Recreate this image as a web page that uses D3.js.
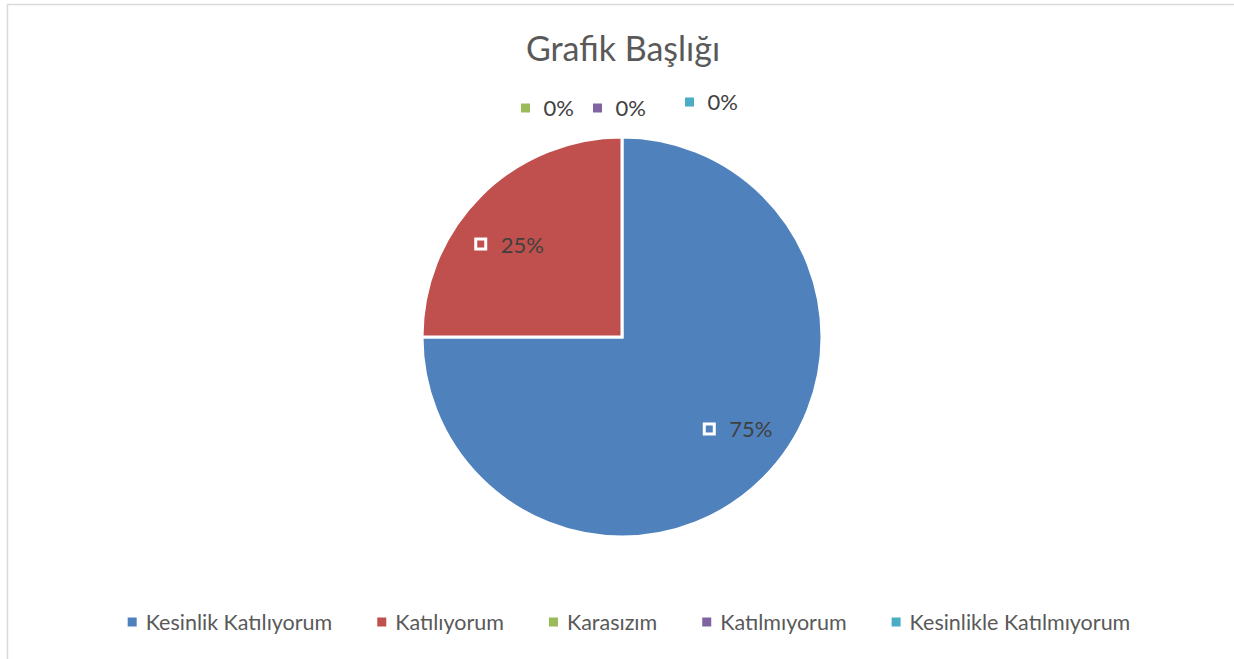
<!DOCTYPE html>
<html>
<head>
<meta charset="utf-8">
<script src="https://cdn.jsdelivr.net/npm/d3@7"></script>
<style>
    body { margin: 0; background: #ffffff; }
    svg { display: block; font-family: Lato, "Open Sans", sans-serif; }
</style>
</head>
<body>
<svg id="SVG_CONTAINER" width="1234" height="659"></svg>
<script>
// chart values
const categories = ["Kesinlik Katılıyorum", "Katılıyorum", "Karasızım", "Katılmıyorum", "Kesinlikle Katılmıyorum"];
const shares = [75, 25, 0, 0, 0];
const colours = ["#4f81bd", "#c0504d", "#9bbb59", "#8064a2", "#4bacc6"];
const title = "Grafik Başlığı";

const width = 1234, height = 659;
const CENTER = {"X": 622, "Y": 337};
const RADIUS = 200;

let svg = d3.select("#SVG_CONTAINER");

// frame of the chart area
svg.append("rect")
    .attr("x", 7.5)
    .attr("y", 4.5)
    .attr("width", width + 20)
    .attr("height", height + 20)
    .style("fill", "#ffffff")
    .style("stroke", "#d9d9d9")
    .style("stroke-width", 1.5);

// title
svg.append("text")
    .attr("x", CENTER.X + 1)
    .attr("y", 61)
    .attr("text-anchor", "middle")
    .style("font-size", "34px")
    .style("fill", "#595959")
    .text(title);

//** PIE *****************************************
let data = categories.map((c, i) => ({name: c, value: shares[i]}));

let pie = d3.pie()
    .sort(null)
    .value(d => d.value);

let arcs = pie(data);

let arc = d3.arc()
    .innerRadius(0)
    .outerRadius(RADIUS);

let labelArc = d3.arc()
    .innerRadius(RADIUS * 0.735)
    .outerRadius(RADIUS * 0.735);

let chart = svg.append("g")
    .attr("transform", "translate(" + CENTER.X + "," + CENTER.Y + ")");

chart.selectAll("path")
    .data(arcs.filter(d => d.value > 0))
    .enter()
    .append("path")
    .attr("d", arc)
    .style("fill", (d, i) => colours[i])
    .style("stroke", "#ffffff")
    .style("stroke-width", 3);

// labels inside the slices, with a white outlined marker
let shift = 0.105;
let inside = chart.selectAll(".inLabel")
    .data(arcs.filter(d => d.value > 0))
    .enter()
    .append("g")
    .attr("class", "inLabel")
    .attr("transform", d => {
        let c = labelArc.centroid({startAngle: d.startAngle - shift, endAngle: d.endAngle - shift});
        return "translate(" + c[0] + "," + c[1] + ")";
    });

inside.append("rect")
    .attr("x", -32)
    .attr("y", -5.5)
    .attr("width", 10)
    .attr("height", 10)
    .style("fill", "none")
    .style("stroke", "#ffffff")
    .style("stroke-width", 3);

inside.append("text")
    .attr("x", -7)
    .attr("y", 8)
    .style("font-size", "22px")
    .style("fill", "#404040")
    .text(d => d.value + "%");

// zero slices: labels placed above the pie
let zeroOffsets = [{dx: -96.5, dy: -229}, {dx: -24.5, dy: -229}, {dx: 67.5, dy: -235}];
let zeroSlices = arcs.filter(d => d.value === 0);

let outside = chart.selectAll(".outLabel")
    .data(zeroSlices)
    .enter()
    .append("g")
    .attr("class", "outLabel")
    .attr("transform", (d, i) => "translate(" + zeroOffsets[i].dx + "," + zeroOffsets[i].dy + ")");

outside.append("rect")
    .attr("x", -4.5)
    .attr("y", -4.5)
    .attr("width", 9)
    .attr("height", 9)
    .style("fill", (d, i) => colours[d.index]);

outside.append("text")
    .attr("x", 18)
    .attr("y", 8)
    .style("font-size", "22px")
    .style("fill", "#404040")
    .text(d => d.value + "%");

//** LEGEND *****************************************
let legend = svg.append("g").attr("class", "legend");
let items = legend.selectAll("g")
    .data(categories)
    .enter()
    .append("g");

items.append("rect")
    .attr("x", 0)
    .attr("y", -4.5)
    .attr("width", 9)
    .attr("height", 9)
    .style("fill", (d, i) => colours[i]);

items.append("text")
    .attr("x", 18)
    .attr("y", 8)
    .style("font-size", "21.5px")
    .style("fill", "#595959")
    .text(d => d);

let gap = 45;
let xLegend = 0;
items.each(function () {
    let w = this.getBBox().width;
    d3.select(this).attr("transform", "translate(" + xLegend + ",0)");
    xLegend += w + gap;
});
let legendWidth = xLegend - gap;
legend.attr("transform", "translate(" + (629 - legendWidth / 2) + ",622)");
</script>
</body>
</html>
